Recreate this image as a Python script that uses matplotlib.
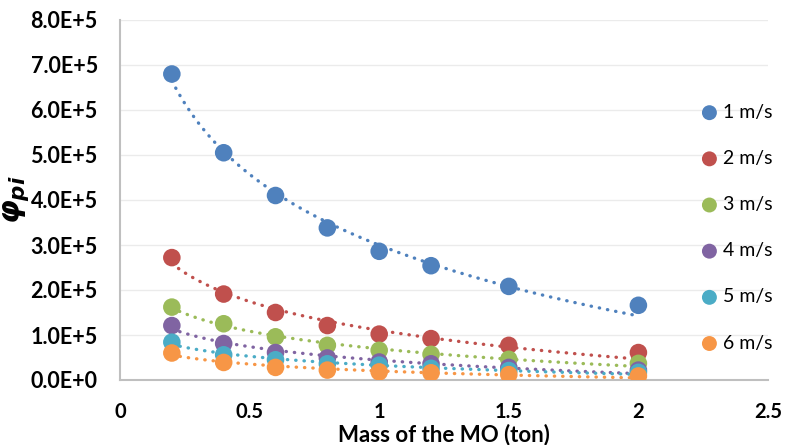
import numpy as np
import matplotlib
matplotlib.use("Agg")
import matplotlib.pyplot as plt

mass = [0.2, 0.4, 0.6, 0.8, 1.0, 1.2, 1.5, 2.0]
labels = ["1 m/s", "2 m/s", "3 m/s", "4 m/s", "5 m/s", "6 m/s"]
v1 = [6.80e5, 5.05e5, 4.10e5, 3.38e5, 2.86e5, 2.54e5, 2.08e5, 1.66e5]
v2 = [2.72e5, 1.91e5, 1.50e5, 1.21e5, 1.02e5, 0.92e5, 0.77e5, 0.61e5]
v3 = [1.62e5, 1.25e5, 0.96e5, 0.77e5, 0.66e5, 0.57e5, 0.46e5, 0.37e5]
v4 = [1.21e5, 0.81e5, 0.61e5, 0.49e5, 0.40e5, 0.36e5, 0.28e5, 0.22e5]
v5 = [0.84e5, 0.56e5, 0.45e5, 0.36e5, 0.33e5, 0.26e5, 0.21e5, 0.17e5]
v6 = [0.60e5, 0.39e5, 0.28e5, 0.22e5, 0.18e5, 0.16e5, 0.12e5, 0.09e5]
series = [v1, v2, v3, v4, v5, v6]
colors = ["#4F81BD", "#C0504D", "#9BBB59", "#8064A2", "#4BACC6", "#F79646"]

plt.rcParams["font.family"] = ["Lato", "DejaVu Sans"]
plt.rcParams["mathtext.fontset"] = "custom"
plt.rcParams["mathtext.it"] = "DejaVu Sans:italic:bold"
plt.rcParams["mathtext.rm"] = "DejaVu Sans:bold"

fig = plt.figure(figsize=(7.85, 4.45), dpi=100)
ax = fig.add_axes([120 / 785, 1 - 380 / 445, 648 / 785, 360 / 445])

x = np.array(mass)
xs = np.linspace(x.min(), x.max(), 200)
# logarithmic trendlines: y = a + b*ln(x), least squares
for vals, c in zip(series, colors):
    b, a = np.polyfit(np.log(x), np.array(vals), 1)
    ax.plot(xs, a + b * np.log(xs), color=c, lw=2.4,
            linestyle=(0, (0.1, 2.4)), dash_capstyle="round", zorder=2)

for vals, c, lab in zip(series, colors, labels):
    ax.scatter(mass, vals, s=160, color=c, edgecolors="none", zorder=3, label=lab)

ax.set_xlim(0, 2.5)
ax.set_ylim(0, 8e5)
ax.set_xticks([0, 0.5, 1, 1.5, 2, 2.5])
ax.set_xticklabels(["0", "0.5", "1", "1.5", "2", "2.5"])
ax.set_yticks(np.arange(0, 8.01e5, 1e5))
ax.set_yticklabels([f"{i}.0E+{5 if i else 0}" for i in range(9)])
for t in ax.get_xticklabels():
    t.set_fontweight("bold")
    t.set_fontsize(14.5)
for t in ax.get_yticklabels():
    t.set_fontweight("bold")
    t.set_fontsize(15.5)
ax.tick_params(axis="y", length=0, pad=16)
ax.tick_params(axis="x", length=0, pad=16)

ax.grid(axis="y", color="#EBEBEB", lw=1)
ax.set_axisbelow(True)
for s in ["top", "right"]:
    ax.spines[s].set_visible(False)
for s in ["left", "bottom"]:
    ax.spines[s].set_color("#BFBFBF")
    ax.spines[s].set_linewidth(1.5)

ax.set_xlabel("Mass of the MO (ton)", fontsize=16, fontweight="bold", labelpad=1)
ax.set_ylabel(r"$\varphi_{pi}$", fontsize=22, labelpad=0)

leg = ax.legend(loc="upper left", bbox_to_anchor=(689 / 785, 1 - 96 / 445),
                bbox_transform=fig.transFigure, frameon=False, fontsize=14,
                labelspacing=1.5, handletextpad=0.05, markerscale=0.85,
                borderaxespad=0, handlelength=1.3)

fig.savefig("out.png", dpi=100)
